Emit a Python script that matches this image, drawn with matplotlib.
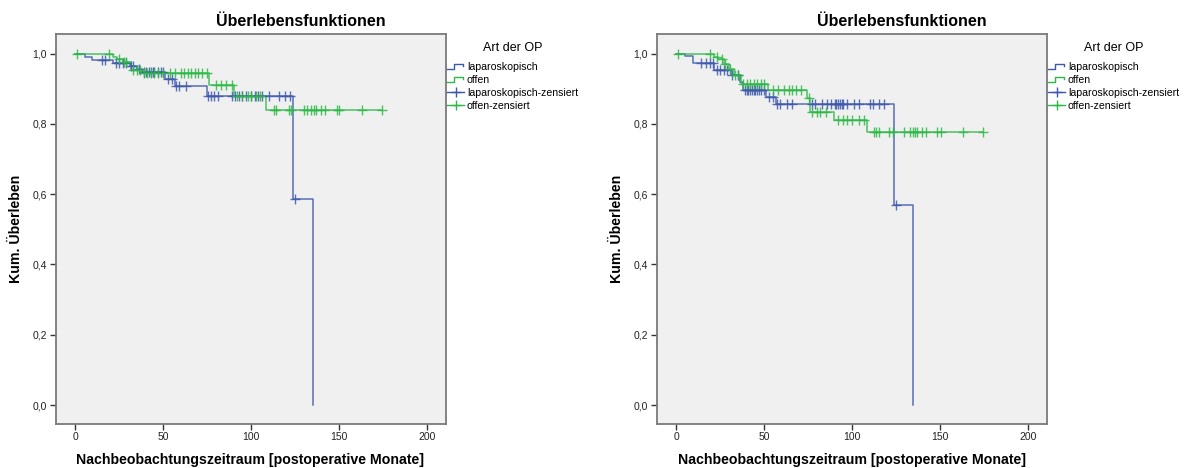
import numpy as np
import matplotlib
matplotlib.use("Agg")
import matplotlib.pyplot as plt
from matplotlib.lines import Line2D
from matplotlib.legend_handler import HandlerBase
from matplotlib.ticker import FuncFormatter

plt.rcParams['font.family'] = ['Liberation Sans', 'DejaVu Sans']

# ---------------- data ----------------
# Panel 1
p1_lap_times = [0, 5.5, 9.3, 21.6, 31, 35, 38, 51, 57, 75, 124, 135]
p1_lap_surv = [1.0, 0.991, 0.981, 0.974, 0.964, 0.956, 0.948, 0.927, 0.908, 0.879, 0.586, 0.0]
p1_lap_cens = [15, 17, 23, 25, 27, 29, 31.5, 33, 36, 39, 40, 42, 43, 44, 45, 47, 49, 50,
               53, 55, 57.5, 59, 63, 75.5, 77, 79, 81, 89, 91, 93, 95, 97, 100, 102, 104,
               106, 110, 116, 119, 122, 125]
p1_off_times = [0, 21.6, 24, 27, 32, 38, 76.3, 90, 108.6]
p1_off_surv = [1.0, 0.99, 0.985, 0.977, 0.953, 0.944, 0.912, 0.879, 0.84]
p1_off_cens = [1, 19, 25, 27.5, 29, 33, 35, 37, 39, 41, 43, 45, 47, 50, 54, 57, 60, 62, 64,
               66, 68, 70, 72, 75, 80, 83, 86, 89, 92, 95, 98, 100, 103, 105, 112.8, 114.3,
               121.3, 122.6, 130, 132, 134, 135.5, 137, 140, 142, 149, 150, 163, 174.5]

# Panel 2
p2_lap_times = [0, 5, 9.5, 21.3, 31, 36, 38, 51, 57, 124, 134.5]
p2_lap_surv = [1.0, 0.994, 0.973, 0.954, 0.94, 0.92, 0.896, 0.877, 0.856, 0.57, 0.0]
p2_lap_cens = [14, 17, 19, 21, 23, 25, 27, 29, 32, 35, 39, 40, 41, 42, 43, 44, 45, 46, 47,
               48, 50, 53, 55, 57.5, 59, 63, 66, 77, 79, 83, 86, 88, 90, 91, 92, 93, 94, 95,
               97, 101, 104, 110, 111.6, 115.3, 118, 125]
p2_off_times = [0, 21.3, 24, 27, 30, 33, 37, 52, 74.5, 76, 89.6, 108.6]
p2_off_surv = [1.0, 0.99, 0.984, 0.97, 0.955, 0.94, 0.915, 0.896, 0.873, 0.834, 0.81, 0.777]
p2_off_cens = [1, 19.4, 23, 26, 28, 30.5, 33.5, 35, 38, 40, 42, 44, 46, 48, 50, 55, 58, 61,
               64, 66, 68, 71, 75.3, 77, 80, 82, 85, 92, 95, 97, 100, 104, 107, 112.4, 113.5,
               115.3, 121, 123, 129.5, 133, 134.5, 136, 137, 140, 142, 148.5, 150.4, 162.8,
               174.2]

group_labels = ['laparoskopisch', 'offen', 'laparoskopisch-zensiert', 'offen-zensiert']
title_text = 'Überlebensfunktionen'
xlabel_text = 'Nachbeobachtungszeitraum [postoperative Monate]'
ylabel_text = 'Kum. Überleben'
legend_title = 'Art der OP'
x_ticks = [0, 50, 100, 150, 200]
y_ticks = [0.0, 0.2, 0.4, 0.6, 0.8, 1.0]

BLUE = '#3E58AC'
GREEN = '#2EB848'
BG = '#F0F0F0'
FRAME = '#7a7a7a'


class StepHandler(HandlerBase):
    def create_artists(self, legend, orig_handle, xdescent, ydescent, width, height,
                       fontsize, trans):
        x0 = -xdescent
        y0 = -ydescent
        xs = [x0, x0 + 0.4 * width, x0 + 0.4 * width, x0 + 0.95 * width, x0 + 0.95 * width]
        ys = [y0 + 0.15 * height, y0 + 0.15 * height, y0 + 0.85 * height,
              y0 + 0.85 * height, y0 + 0.5 * height]
        ln = Line2D(xs, ys, color=orig_handle.get_color(), lw=1.0, transform=trans)
        return [ln]


def km_plot(ax, times, surv, cens, color):
    times = np.asarray(times, float)
    surv = np.asarray(surv, float)
    end = max(max(cens), times[-1])
    xs = np.append(times, end)
    ys = np.append(surv, surv[-1])
    if surv[-1] == 0.0:
        xs, ys = times, surv
    ax.step(xs, ys, where='post', color=color, lw=1.1, alpha=0.85, zorder=3)
    c = np.asarray(cens, float)
    idx = np.searchsorted(times, c, side='right') - 1
    ax.plot(c, surv[idx], linestyle='none', marker='+', markersize=6.5,
            markeredgewidth=1.0, color=color, alpha=0.85, zorder=4)


fig = plt.figure(figsize=(11.84, 4.68), dpi=100)
W, H = 1184, 468
panels = [
    (55.5, (p1_lap_times, p1_lap_surv, p1_lap_cens), (p1_off_times, p1_off_surv, p1_off_cens)),
    (656.5, (p2_lap_times, p2_lap_surv, p2_lap_cens), (p2_off_times, p2_off_surv, p2_off_cens)),
]
fmt = FuncFormatter(lambda v, p: f'{v:.1f}'.replace('.', ','))
for left_px, lap, off in panels:
    ax = fig.add_axes([left_px / W, 1 - 424 / H, 390 / W, 390 / H])
    ax.set_facecolor(BG)
    km_plot(ax, *lap, BLUE)
    km_plot(ax, *off, GREEN)
    ax.set_xlim(-11.2, 210.5)
    ax.set_ylim(-0.054, 1.056)
    ax.set_xticks(x_ticks)
    ax.set_yticks(y_ticks)
    ax.yaxis.set_major_formatter(fmt)
    ax.tick_params(direction='out', length=4, width=1.0, color='#333333',
                   labelsize=7.5, labelcolor='#222222', pad=2)
    for s in ax.spines.values():
        s.set_color(FRAME)
        s.set_linewidth(1.3)
    # title centred over the whole chart block (plot + legend)
    fig.text((left_px + 245) / W, 1 - 22 / H, title_text, fontsize=11.5,
             fontweight='bold', ha='center', va='center')
    ax.set_xlabel(xlabel_text, fontsize=10.2, fontweight='bold', labelpad=8)
    ax.set_ylabel(ylabel_text, fontsize=10.2, fontweight='bold', labelpad=7)

    handles = [Line2D([], [], color=BLUE), Line2D([], [], color=GREEN),
               Line2D([], [], color=BLUE, marker='+', markersize=7, lw=1.0),
               Line2D([], [], color=GREEN, marker='+', markersize=7, lw=1.0)]
    leg = ax.legend(handles, group_labels, title=legend_title, loc='upper left',
                    bbox_to_anchor=(1.005, 0.98), frameon=False, fontsize=7.6,
                    title_fontsize=9, handlelength=1.6, handletextpad=0.25,
                    labelspacing=0.27, borderaxespad=0, borderpad=0, numpoints=1,
                    handler_map={handles[0]: StepHandler(), handles[1]: StepHandler()})
    leg._legend_box.sep = 6

fig.savefig('out.png', dpi=100, facecolor='white')
